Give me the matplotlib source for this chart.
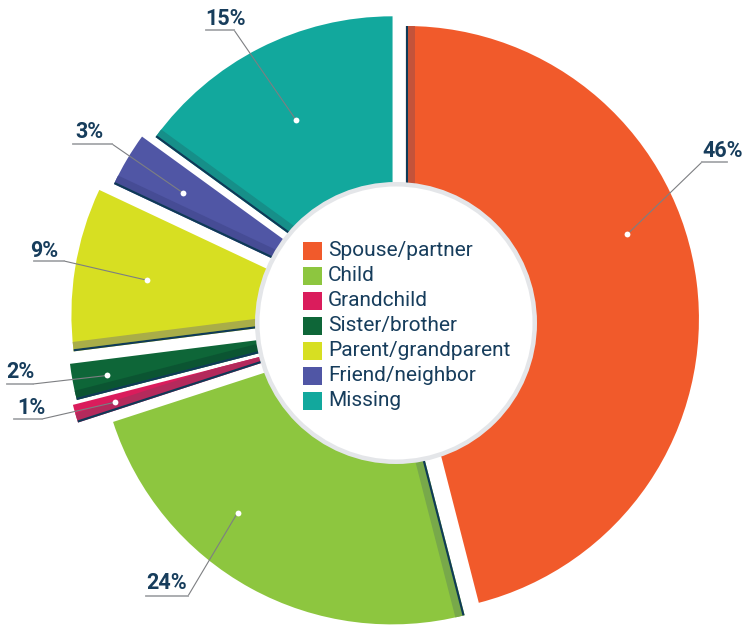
import numpy as np
import matplotlib
matplotlib.use('Agg')
import matplotlib.pyplot as plt
from matplotlib.patches import Circle, Rectangle, Polygon

# ---------------- data ----------------
categories = ['Spouse/partner', 'Child', 'Grandchild', 'Sister/brother',
              'Parent/grandparent', 'Friend/neighbor', 'Missing']
shares = [46, 24, 1, 2, 9, 3, 15]
pct_labels = ['46%', '24%', '1%', '2%', '9%', '3%', '15%']

# ---------------- style ----------------
colors = ['#f15a2b', '#8dc63f', '#da1c5c', '#0e6638', '#d7df22', '#5056a5', '#12a89d']
shade = ['#c4533a', '#78a94a', '#b42a5c', '#0b5532', '#a9ad48', '#464c95', '#168f89']
navy = '#0f3a57'
text_col = '#173d5c'

W, H = 744, 626
fig = plt.figure(figsize=(W / 100, H / 100), dpi=100)
ax = fig.add_axes([0, 0, 1, 1])


def P(x, y):
    return (x, H - y)


C = P(398, 320)
R = 293
explode_px = [8, 13, 43, 38, 34, 22, 12]

wedges, _ = ax.pie(shares, radius=R, center=C, startangle=90, counterclock=False,
                   colors=colors, wedgeprops=dict(linewidth=0), frame=True)
ax.set_xlim(0, W)
ax.set_ylim(0, H)
ax.set_aspect('equal')
ax.axis('off')

for w, d in zip(wedges, explode_px):
    tm = np.deg2rad(0.5 * (w.theta1 + w.theta2))
    w.set_center((C[0] + d * np.cos(tm), C[1] + d * np.sin(tm)))

# pseudo-3D edge strips on the leading (clockwise start) edge
for w, sc in zip(wedges, shade):
    c = np.array(w.center)
    a = np.deg2rad(w.theta2)
    e = np.array([np.cos(a), np.sin(a)])
    n = np.array([np.sin(a), -np.cos(a)])
    L = R + 30
    for w0, w1, col in [(2.2, 9.5, sc), (-1, 2.2, navy)]:
        pts = [c + w0 * n - 5 * e, c + L * e + w0 * n, c + L * e + w1 * n, c + w1 * n - 5 * e]
        poly = Polygon(pts, closed=True, facecolor=col, edgecolor='none', zorder=2)
        ax.add_patch(poly)
        poly.set_clip_path(w)

# centre disc
cc = P(396, 323)
ax.add_patch(Circle(cc, 141, facecolor='#e4e6e9', edgecolor='none', zorder=5))
ax.add_patch(Circle(cc, 136.5, facecolor='white', edgecolor='none', zorder=6))

# legend inside the disc
sq_x, sq_top0, sq_step, sq = 303, 241.5, 25, 18.5
for i, (cat, col) in enumerate(zip(categories, colors)):
    top = sq_top0 + i * sq_step
    ax.add_patch(Rectangle(P(sq_x, top + sq), sq, sq, facecolor=col, edgecolor='none', zorder=7))
    ax.text(328, H - (top + sq - 4), cat, fontsize=15, family='Roboto', color=text_col,
            ha='left', va='baseline', zorder=8)

# labels with leader lines
anchor_frac = [0.417, 0.634, 0.5, 0.5, 0.5, 0.5, 0.5]
anchor_r = [237, 238, 252, 258, 220, 228, 212]
label_xy = [(702, 157), (146, 589), (17, 414), (6, 378), (30, 257), (75, 138), (205, 25)]
under = [(702, 727, 162), (146, 188, 596), (14, 42, 419), (7, 33, 384),
         (34, 64, 261), (73, 112, 144), (206, 234, 30)]
kink_x = [702, 188, 42, 33, 64, 112, 234]

for w, f, r, (tx, ty), (u0, u1, uy), kx, lab in zip(wedges, anchor_frac, anchor_r,
                                                    label_xy, under, kink_x, pct_labels):
    ang = np.deg2rad(w.theta2 - f * (w.theta2 - w.theta1))
    dx = w.center[0] + r * np.cos(ang)
    dy = w.center[1] + r * np.sin(ang)
    ax.plot([dx, kx], [dy, H - uy], color='#7d7f82', lw=0.8, zorder=9, solid_capstyle='round')
    ax.plot([u0, u1], [H - uy, H - uy], color='#a5a7aa', lw=1.3, zorder=9)
    ax.plot([dx], [dy], 'o', ms=4.2, color='white', mec='none', zorder=10)
    ax.text(tx, H - ty, lab, fontsize=15.5, fontweight='bold', family='Roboto',
            color=text_col, ha='left', va='baseline', zorder=10)

fig.savefig('out.png', dpi=100, facecolor='white')
